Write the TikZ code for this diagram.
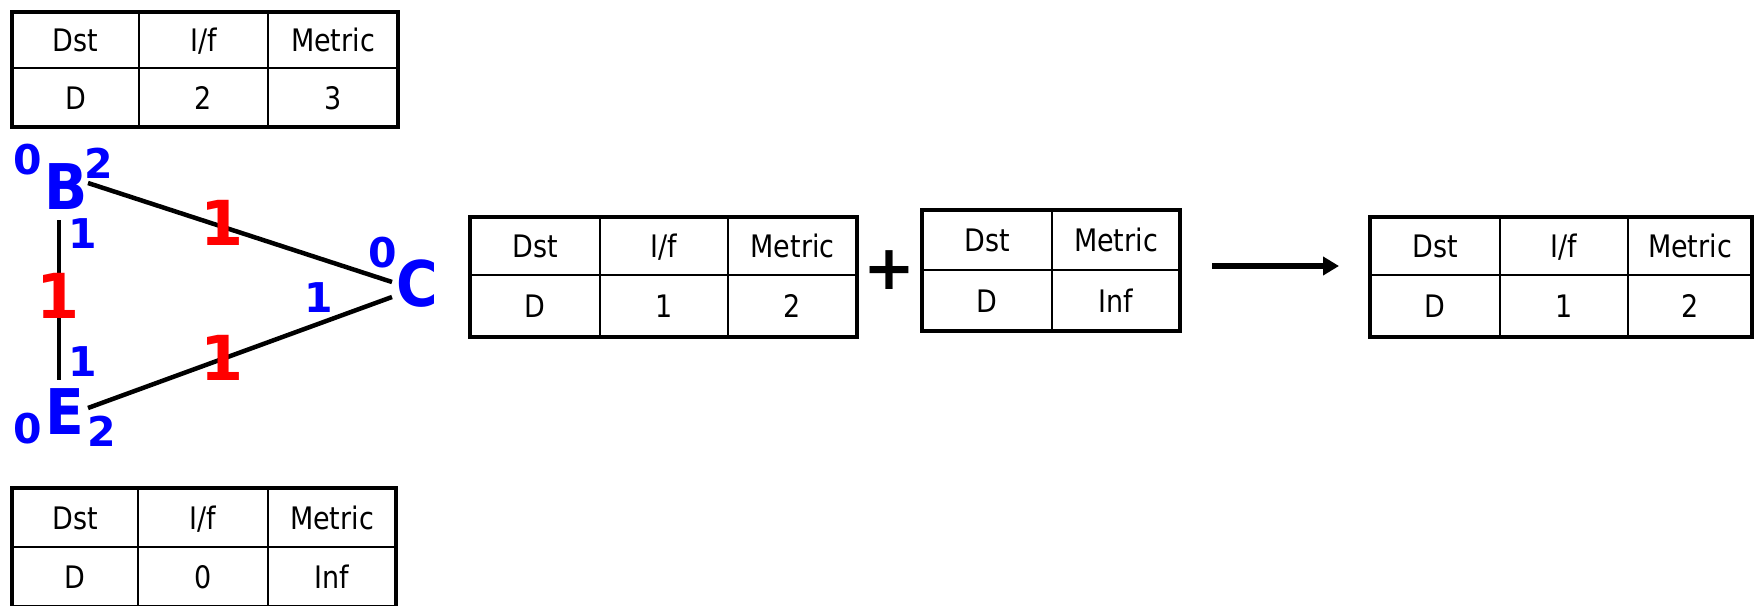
\documentclass[tikz,border=0pt]{standalone}
\usepackage{fontspec}
\setmainfont{DejaVu Sans}
\newfontfamily\tabfont[FakeStretch=0.87]{DejaVu Sans}
\newfontfamily\letfont[FakeStretch=0.9]{DejaVu Sans}
\usetikzlibrary{arrows.meta}
\begin{document}
\begin{tikzpicture}[x=1pt,y=-1pt,
  frame/.style={draw, line width=4.5pt, inner sep=0pt, outer sep=0pt},
  grid/.style={line width=2.5pt},
  tt/.style={font=\tabfont\fontsize{31}{31}\selectfont, anchor=base, inner sep=0pt},
  edge/.style={line width=4.5pt},
  bigl/.style={text=blue, font=\letfont\bfseries\fontsize{63}{63}\selectfont, anchor=center, inner sep=0pt},
  port/.style={text=blue, font=\bfseries\fontsize{41}{41}\selectfont, anchor=center, inner sep=0pt},
  wt/.style={text=red, font=\bfseries\fontsize{62}{62}\selectfont, anchor=center, inner sep=0pt},
  plusmark/.style={font=\bfseries\fontsize{62}{62}\selectfont, anchor=center, inner sep=0pt},
  arr/.style={-{Triangle[length=16pt,width=18pt]}, line width=6pt}]
\useasboundingbox (0,0) rectangle (1755,605);

% ---------- table at B ----------
\draw[grid] (12,68) -- (398,68) (139,12) -- (139,127) (268,12) -- (268,127);
\node[frame, minimum width=386pt, minimum height=115pt] (tabB) at (205,69.5) {};
\node[tt] (tB11) at (75.5,51.5) {Dst};
\node[tt] (tB12) at (203.5,51.5) {I/f};
\node[tt] (tB13) at (333,51.5) {Metric};
\node[tt] (tB21) at (75.5,109) {D};
\node[tt] (tB22) at (203.5,109) {2};
\node[tt] (tB23) at (333,109) {3};

% ---------- table at E ----------
\draw[grid] (12,547) -- (396,547) (138,488) -- (138,607) (268,488) -- (268,607);
\node[frame, minimum width=384pt, minimum height=119pt] (tabE) at (204,547.5) {};
\node[tt] (tE11) at (75,529) {Dst};
\node[tt] (tE12) at (203,529) {I/f};
\node[tt] (tE13) at (332,529) {Metric};
\node[tt] (tE21) at (75,588.5) {D};
\node[tt] (tE22) at (203,588.5) {0};
\node[tt] (tE23) at (332,588.5) {Inf};

% ---------- table C (old) ----------
\draw[grid] (470,275) -- (857,275) (600,217) -- (600,337) (728,217) -- (728,337);
\node[frame, minimum width=387pt, minimum height=120pt] (tabC) at (663.5,277) {};
\node[tt] (tC11) at (535,257.5) {Dst};
\node[tt] (tC12) at (664,257.5) {I/f};
\node[tt] (tC13) at (792.5,257.5) {Metric};
\node[tt] (tC21) at (535,317.5) {D};
\node[tt] (tC22) at (664,317.5) {1};
\node[tt] (tC23) at (792.5,317.5) {2};

\node[plusmark] (plus) at (889,270) {+};

% ---------- received vector ----------
\draw[grid] (922,270) -- (1180,270) (1052,210) -- (1052,331);
\node[frame, minimum width=258pt, minimum height=121pt] (tabN) at (1051,270.5) {};
\node[tt] (tN11) at (987,251.5) {Dst};
\node[tt] (tN12) at (1116,251.5) {Metric};
\node[tt] (tN21) at (987,312) {D};
\node[tt] (tN22) at (1116,312) {Inf};

% ---------- arrow ----------
\coordinate (a1) at (1212,266);
\coordinate (a2) at (1339,266);
\draw[arr] (a1) -- (a2);

% ---------- result table ----------
\draw[grid] (1370,275) -- (1752,275) (1500,217) -- (1500,337) (1628,217) -- (1628,337);
\node[frame, minimum width=382pt, minimum height=120pt] (tabR) at (1561,277) {};
\node[tt] (tR11) at (1435,257.5) {Dst};
\node[tt] (tR12) at (1564,257.5) {I/f};
\node[tt] (tR13) at (1690,257.5) {Metric};
\node[tt] (tR21) at (1435,317.5) {D};
\node[tt] (tR22) at (1564,317.5) {1};
\node[tt] (tR23) at (1690,317.5) {2};

% ---------- graph ----------
\coordinate (pB2) at (88,183);
\coordinate (pB1) at (59,220);
\coordinate (pE1) at (59,380);
\coordinate (pE2) at (88,408);
\coordinate (pC0) at (392,282);
\coordinate (pC1) at (392,297);
\draw[edge] (pB2) -- (pC0);
\draw[edge] (pB1) -- (pE1);
\draw[edge] (pE2) -- (pC1);

\node[bigl] (B) at (66,186.5) {B};
\node[bigl] (E) at (64.5,411.5) {E};
\node[bigl] (C) at (417,283.5) {C};

\node[port] (B0) at (27.5,160) {0};
\node[port] (B2) at (98.5,163) {2};
\node[port] (B1) at (82.5,234) {1};
\node[port] (E1) at (82.5,362) {1};
\node[port] (E0) at (27.5,429) {0};
\node[port] (E2) at (101.5,431) {2};
\node[port] (C0) at (383,252.5) {0};
\node[port] (C1) at (319,298) {1};

\node[wt] (wBE) at (58,296) {1};
\node[wt] (wBC) at (222,222.5) {1};
\node[wt] (wEC) at (222,357.5) {1};
\end{tikzpicture}
\end{document}
